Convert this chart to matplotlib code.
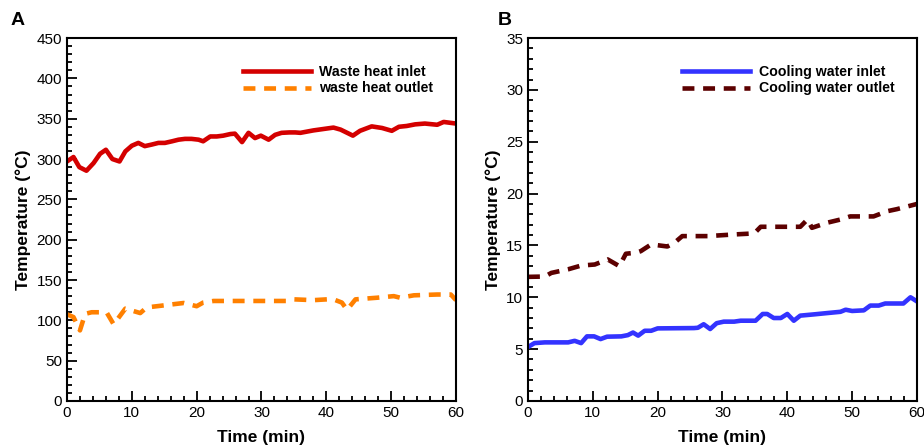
import matplotlib
matplotlib.use('Agg')
import matplotlib.pyplot as plt
from matplotlib.ticker import MultipleLocator

plt.rcParams['font.family'] = ['Liberation Sans', 'DejaVu Sans']

# --- Panel A: waste heat side ---
waste_in_t = [0, 1, 1.9, 3, 4.1, 5.1, 6, 7, 8.1, 9, 10, 11, 12, 13.1, 14.1, 15.1,
              16.2, 17.2, 18.2, 19.2, 20.3, 21, 22.1, 23.1, 24.1, 25.2, 25.9, 27,
              28, 29, 29.9, 31.1, 32.1, 33.1, 34.3, 35.2, 36, 38, 41.1, 42.2, 44.1,
              45.2, 47, 48.6, 50.1, 51.2, 52.4, 53.7, 55.2, 57.1, 58.1, 60]
waste_in = [297, 302.5, 290, 285.5, 295, 306.5, 311.5, 300, 297, 309.5, 316.5, 320,
            316, 318, 320, 320, 322, 324, 325, 325, 324, 322, 328, 328, 329, 331,
            331.5, 321, 332.5, 326, 329, 324, 330, 332.5, 333, 333, 332.5, 335.5,
            339, 336.5, 329, 335, 340.5, 338.5, 335, 340, 341, 343, 344, 342.5,
            346, 344]

waste_out_t = [0, 1, 2, 2.8, 3.8, 6.1, 7.2, 9, 11.3, 12.3, 14.4, 18, 20, 21, 22.6,
               33.9, 35, 38, 40.1, 41.1, 42.4, 43.2, 44.5, 47.8, 50.4, 51.4, 53.5,
               57.1, 59.2, 60]
waste_out = [107.5, 104, 87.5, 108, 110, 110, 95, 114.5, 109, 116, 118, 121.5, 117.5,
             122, 124, 124, 126, 125, 126, 126, 122, 113, 126, 128, 130, 128, 131,
             132, 132, 125]

# --- Panel B: cooling water side ---
cool_in_t = [0, 1, 2.6, 6.2, 7.2, 8.2, 9.1, 10.2, 11.2, 12.2, 14.4, 15.4, 16.2, 17,
             18, 19, 20, 25.6, 26.2, 27.1, 28.1, 29.1, 30.2, 31.8, 32.8, 35.1, 36.2,
             36.9, 37.9, 39, 40, 41, 42, 44.1, 46.2, 48.2, 49, 50, 51.8, 52.8, 54.1,
             55.1, 57.9, 59, 60]
cool_in = [5.2, 5.58, 5.65, 5.65, 5.8, 5.58, 6.23, 6.23, 5.97, 6.2, 6.23, 6.35, 6.6,
           6.3, 6.77, 6.77, 7.0, 7.03, 7.06, 7.4, 6.94, 7.5, 7.65, 7.65, 7.74, 7.74,
           8.39, 8.39, 8.0, 8.0, 8.39, 7.74, 8.23, 8.35, 8.48, 8.6, 8.8, 8.68, 8.74,
           9.2, 9.2, 9.4, 9.4, 10.0, 9.6]

cool_out_t = [0, 2.6, 3.6, 6.2, 8.2, 10.3, 12.3, 14.1, 15.1, 16.7, 17.4, 19, 21.5,
              22.6, 23.8, 27.7, 31.8, 34.9, 35.9, 42, 43.1, 43.8, 46.2, 48.2, 49.7,
              53.3, 55.4, 56.9, 60]
cool_out = [11.97, 12.0, 12.35, 12.7, 13.06, 13.16, 13.65, 13.0, 14.2, 14.3, 14.45,
            15.1, 14.9, 15.26, 15.9, 15.9, 16.06, 16.16, 16.8, 16.8, 17.5, 16.7, 17.2,
            17.5, 17.8, 17.8, 18.3, 18.5, 19.0]


def style_axis(ax, ymax, ymajor, yminor):
    ax.set_xlim(0, 60)
    ax.set_ylim(0, ymax)
    ax.xaxis.set_major_locator(MultipleLocator(10))
    ax.xaxis.set_minor_locator(MultipleLocator(2))
    ax.yaxis.set_major_locator(MultipleLocator(ymajor))
    ax.yaxis.set_minor_locator(MultipleLocator(yminor))
    ax.tick_params(which='both', direction='in', labelsize=11, width=1.3)
    ax.tick_params(which='major', length=7)
    ax.tick_params(which='minor', length=3.5)
    for s in ax.spines.values():
        s.set_linewidth(1.5)
    ax.set_xlabel('Time (min)', fontsize=12.5, fontweight='bold', labelpad=7)
    ax.set_ylabel('Temperature (\u00b0C)', fontsize=12.5, fontweight='bold', labelpad=4)


fig = plt.figure(figsize=(9.24, 4.48), dpi=100)
ax1 = fig.add_axes([0.0725, 0.105, 0.421, 0.810])
ax2 = fig.add_axes([0.5714, 0.105, 0.421, 0.810])

ax1.plot(waste_in_t, waste_in, color='#d40000', lw=3.3, label='Waste heat inlet')
ax1.plot(waste_out_t, waste_out, color='#ff8000', lw=3.3, dashes=(2.6, 1.9),
         label='waste heat outlet')
style_axis(ax1, 450, 50, 10)
ax1.legend(loc='upper left', bbox_to_anchor=(0.452, 0.926), frameon=False,
           borderpad=0, borderaxespad=0, handlelength=4.8, handletextpad=0.6,
           labelspacing=0.18, prop={'weight': 'bold', 'size': 10.2})

ax2.plot(cool_in_t, cool_in, color='#3333ff', lw=3.3, label='Cooling water inlet')
ax2.plot(cool_out_t, cool_out, color='#5c0000', lw=3.3, dashes=(2.6, 1.9),
         label='Cooling water outlet')
style_axis(ax2, 35, 5, 1)
ax2.legend(loc='upper left', bbox_to_anchor=(0.396, 0.926), frameon=False,
           borderpad=0, borderaxespad=0, handlelength=4.8, handletextpad=0.6,
           labelspacing=0.18, prop={'weight': 'bold', 'size': 10.2})

fig.text(0.011, 0.945, 'A', fontsize=14, fontweight='bold')
fig.text(0.539, 0.945, 'B', fontsize=14, fontweight='bold')

fig.savefig('out.png', dpi=100)
